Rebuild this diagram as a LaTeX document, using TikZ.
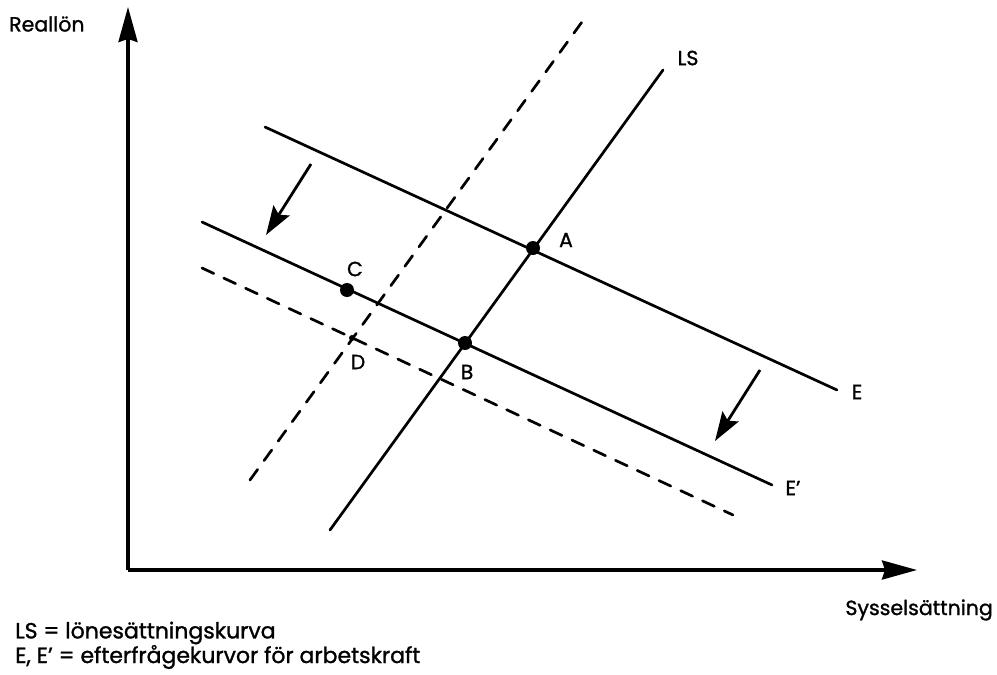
\documentclass[tikz,border=0pt]{standalone}
\usepackage{fontspec}
\setmainfont{Poppins}[FakeBold=1.2,BoldFont=Poppins]
\usetikzlibrary{arrows.meta}
\begin{document}
\begin{tikzpicture}[x=1pt,y=-1pt,
  axis/.style={line width=3.2pt,-{Stealth[length=35pt,width=19pt,inset=3pt]}},
  curve/.style={line width=2.7pt,line cap=round},
  dcurve/.style={line width=2.7pt,line cap=round,dash pattern=on 13pt off 11pt},
  movearrow/.style={line width=2.8pt,-{Stealth[length=29pt,width=19pt,inset=5pt]}},
  pt/.style={circle,fill=black,inner sep=0pt,minimum size=14pt},
  spt/.style={circle,fill=black,inner sep=0pt,minimum size=6pt},
  lab/.style={font=\fontsize{20.5}{23}\selectfont\bfseries,inner sep=0pt},
  note/.style={font=\fontsize{22}{24}\selectfont\bfseries,inner sep=0pt,anchor=west}]
\useasboundingbox (0,0) rectangle (997,675);
% axes
\coordinate (O) at (128,570);
\coordinate (Ytip) at (128,7);
\coordinate (Xtip) at (917,570);
\draw[axis] (O) -- (Ytip);
\draw[axis] (O) -- (Xtip);
% curve endpoints
\coordinate (E1) at (265,127);  \coordinate (E2) at (837,390);
\coordinate (Ep1) at (202,222); \coordinate (Ep2) at (772,485);
\coordinate (Ed1) at (202,268); \coordinate (Ed2) at (733,515);
\coordinate (LS1) at (330,530); \coordinate (LS2) at (663,70);
\coordinate (LSd1) at (250,480); \coordinate (LSd2) at (587,15);
\draw[curve] (E1) -- (E2);
\draw[curve] (Ep1) -- (Ep2);
\draw[dcurve] (Ed1) -- (Ed2);
\draw[curve] (LS1) -- (LS2);
\draw[dcurve] (LSd1) -- (LSd2);
% shift arrows
\coordinate (s1a) at (311,164); \coordinate (s1b) at (266,235);
\coordinate (s2a) at (760,370); \coordinate (s2b) at (715,441);
\draw[movearrow] (s1a) -- (s1b);
\draw[movearrow] (s2a) -- (s2b);
% points
\node[pt] (A) at (533,248) {};
\node[pt] (B) at (465,343) {};
\node[pt] (C) at (347,290) {};
\node[spt] (D) at (352,338) {};
% labels
\node[lab] (lA) at (566,240) {A};
\node[lab] (lB) at (467,372) {B};
\node[lab] (lC) at (355,269) {C};
\node[lab] (lD) at (358,362) {D};
\node[lab] (lE) at (857,392) {E};
\node[lab] (lEp) at (793,488) {E’};
\node[lab] (lLS) at (688,58) {LS};
\node[lab,anchor=west] (yl) at (9,24) {Reallön};
\node[lab,anchor=east] (xl) at (993,610) {Sysselsättning};
\node[note] (n1) at (15,633) {LS = lönesättningskurva};
\node[note] (n2) at (15,657) {E, E’ = efterfrågekurvor för arbetskraft};
\end{tikzpicture}
\end{document}
